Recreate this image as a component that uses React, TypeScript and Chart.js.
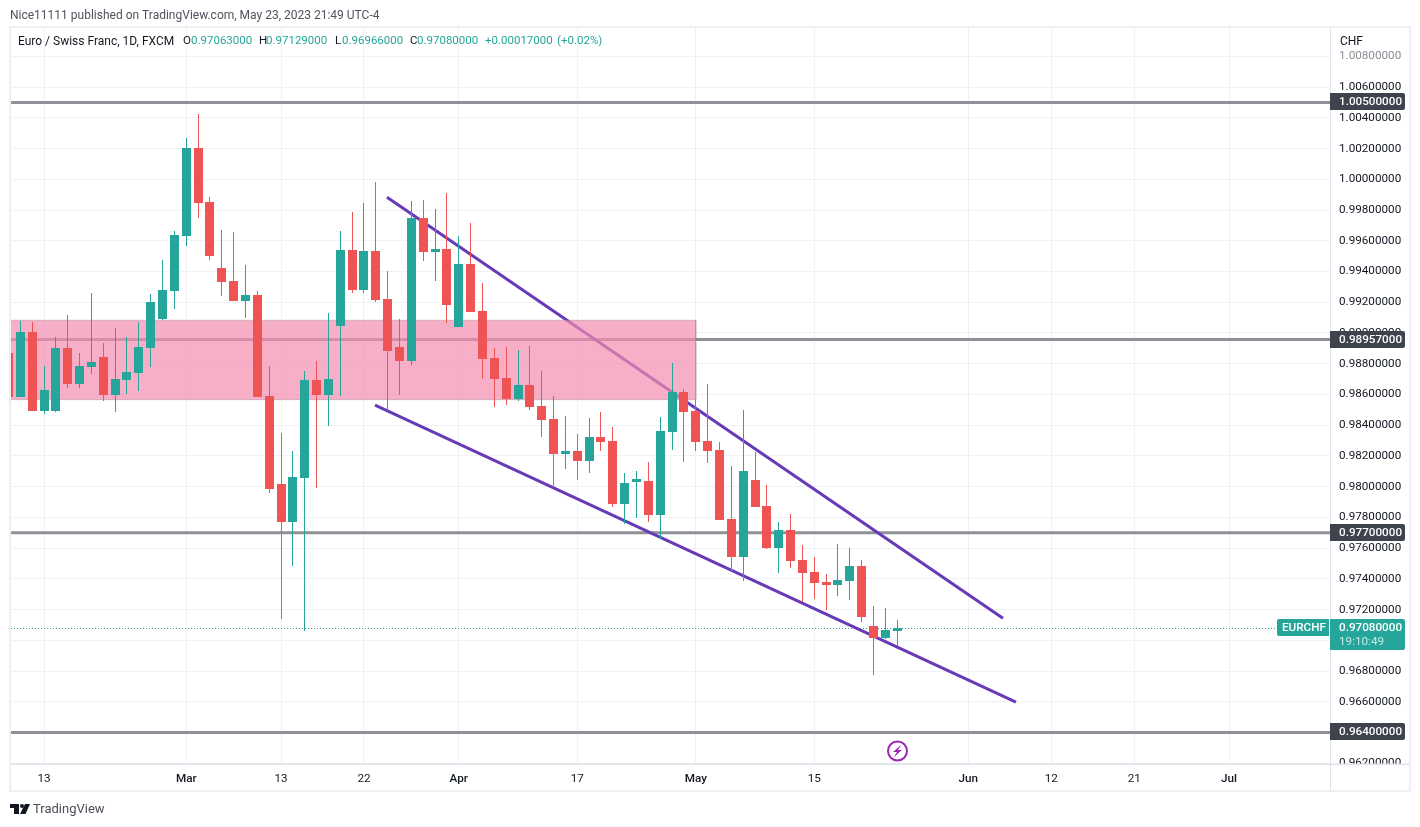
import React, { useEffect, useRef } from "react";
import { Chart, registerables } from "chart.js";

Chart.register(...registerables);

const opens = [0.98868,0.98582,0.99005,0.98491,0.98491,0.98901,0.98667,0.98777,0.98842,0.98595,0.98693,0.98738,0.98901,0.9909,0.99272,0.9963,1.00203,0.99851,0.99422,0.99337,0.99207,0.99246,0.98589,0.98016,0.97769,0.98055,0.98693,0.98595,0.99044,0.99539,0.99278,0.99532,0.9922,0.98907,0.98816,0.99747,0.99526,0.99545,0.99038,0.99448,0.99142,0.98836,0.98706,0.98569,0.9866,0.98524,0.98439,0.98211,0.98231,0.98166,0.98322,0.98296,0.97886,0.98029,0.98035,0.97814,0.98354,0.98615,0.98491,0.98296,0.98237,0.97788,0.97541,0.98042,0.97873,0.97599,0.97717,0.97521,0.97443,0.97378,0.97359,0.97385,0.97482,0.97092,0.97014,0.97063];
const highs = [0.98868,0.99077,0.9907,0.98784,0.98973,0.99116,0.98868,0.99259,0.98934,0.99031,0.98973,0.9907,0.99252,0.99474,0.99663,1.00268,1.00424,0.99884,0.99669,0.99656,0.99441,0.99272,0.98784,0.98348,0.98231,0.98751,0.98816,0.99129,0.99663,0.99786,0.99845,0.99981,0.99402,0.9909,0.99858,0.99864,0.99806,0.9991,0.9963,0.99714,0.99324,0.98901,0.98907,0.98888,0.98914,0.98751,0.98589,0.98458,0.98341,0.98445,0.98485,0.98387,0.98088,0.98101,0.98159,0.98452,0.98803,0.98634,0.98563,0.98667,0.98289,0.98133,0.98498,0.98224,0.98009,0.97769,0.97821,0.97619,0.97541,0.9743,0.97625,0.97599,0.97521,0.97222,0.97209,0.97129];
const lows = [0.98582,0.98582,0.98491,0.98472,0.98485,0.98641,0.98641,0.98732,0.98556,0.98485,0.98602,0.98621,0.98777,0.99083,0.99155,0.99565,0.99747,0.99474,0.99239,0.99207,0.99096,0.98582,0.97957,0.97137,0.97482,0.97059,0.9799,0.98393,0.98589,0.99259,0.99259,0.992,0.98504,0.98595,0.9879,0.99467,0.99337,0.99064,0.99038,0.99135,0.98699,0.98517,0.9853,0.98556,0.98498,0.98322,0.97996,0.98114,0.98042,0.98088,0.98231,0.97866,0.97756,0.97795,0.97769,0.97658,0.98237,0.98159,0.98231,0.98153,0.97782,0.9745,0.97385,0.97866,0.97593,0.97437,0.97469,0.97248,0.97268,0.97196,0.97287,0.97261,0.97118,0.96773,0.97007,0.96966];
const closes = [0.98582,0.99005,0.98491,0.98628,0.98901,0.98667,0.98784,0.9881,0.98595,0.98699,0.98745,0.98907,0.992,0.99278,0.99636,1.00203,0.99845,0.995,0.99331,0.99207,0.99246,0.98582,0.97983,0.97769,0.98062,0.98693,0.98595,0.98699,0.99539,0.99278,0.99532,0.99213,0.98881,0.98816,0.99747,0.99526,0.99545,0.99181,0.99448,0.99135,0.98829,0.98699,0.98569,0.9866,0.98517,0.98432,0.98211,0.98231,0.98166,0.98322,0.98289,0.97886,0.98022,0.98049,0.97814,0.98361,0.98615,0.98485,0.98289,0.98231,0.97782,0.97541,0.98101,0.97866,0.97599,0.97717,0.97515,0.97437,0.97372,0.97359,0.97391,0.97482,0.9715,0.97014,0.97066,0.9708];

const priceTicks = [1.008,1.006,1.004,1.002,1.0,0.998,0.996,0.994,0.992,0.99,0.988,0.986,0.984,0.982,0.98,0.978,0.976,0.974,0.972,0.97,0.968,0.966,0.964,0.962];
const timeTickIndex = [3,15,23,30,38,48,58,68,81,88,95,103];
const timeTickLabels = ["13","Mar","13","22","Apr","17","May","15","Jun","12","21","Jul"];
const monthTicks = ["Mar","Apr","May","Jun","Jul"];

const levels = [1.005,0.98957,0.977,0.964];
const zoneHigh = 0.99083;
const zoneLow = 0.98566;
const zoneEndIndex = 58;
const upperTrendIndex = [31.94,83.92];
const upperTrendPrice = [0.99884,0.97144];
const lowerTrendIndex = [30.93,85.02];
const lowerTrendPrice = [0.9853,0.96597];
const lastPrice = 0.9708;
const lastIndex = 75;

const X_MIN = 0.211;
const X_MAX = 111.52;
const Y_MIN = 0.96195;
const Y_MAX = 1.009848;

const TEAL = "#26a69a";
const RED = "#f05353";
const GRAY = "#909196";
const PURPLE = "#673ab7";
const FONT = "Roboto, 'Noto Sans', sans-serif";

const indices = opens.map((_, i) => i);
const isUp = (i: number) => closes[i] >= opens[i];

const snapPlugin = {
  id: "snap",
  afterDatasetsUpdate(chart: any) {
    chart.data.datasets.forEach((ds: any, di: number) => {
      const meta = chart.getDatasetMeta(di);
      if (ds.snap === "bar") {
        meta.data.forEach((el: any) => {
          el.x = Math.floor(el.x) + 0.5;
          el.y = Math.round(el.y);
          el.base = Math.round(el.base);
          if (Math.abs(el.y - el.base) < 1) el.base = el.y + 1;
        });
      } else if (ds.snap === "line") {
        meta.data.forEach((el: any) => {
          el.y = Math.floor(el.y) + 0.5;
        });
      }
    });
  },
};

function tag(ctx: CanvasRenderingContext2D, x: number, y: number, w: number, h: number, r: any, bg: string) {
  ctx.fillStyle = bg;
  ctx.beginPath();
  ctx.roundRect(x, y, w, h, r);
  ctx.fill();
}

function txt(ctx: CanvasRenderingContext2D, s: string, x: number, y: number, color: string, font: string) {
  ctx.font = font;
  ctx.fillStyle = color;
  ctx.textAlign = "left";
  ctx.textBaseline = "middle";
  ctx.fillText(s, x, y);
}

const overlayPlugin = {
  id: "overlay",
  afterDraw(chart: any) {
    const ctx: CanvasRenderingContext2D = chart.ctx;
    const xs = chart.scales.x;
    const ys = chart.scales.y;
    ctx.save();
    // lower-right corner hides the clipped tick
    ctx.fillStyle = "#ffffff";
    ctx.fillRect(1331, 765, 78, 26);
    // panel frame
    ctx.fillStyle = "#eeeef3";
    ctx.fillRect(9, 26, 1402, 2);
    ctx.fillRect(9, 790, 1402, 2);
    ctx.fillRect(9, 26, 2, 766);
    ctx.fillRect(1409, 26, 2, 766);
    // axis separators
    ctx.fillStyle = "#e0e3eb";
    ctx.fillRect(11, 763.5, 1398, 1.5);
    ctx.fillRect(1330, 28, 1, 762);

    // tags on the price axis
    const bold = `500 11.7px ${FONT}`;
    levels.forEach((v) => {
      const y = Math.round(ys.getPixelForValue(v));
      tag(ctx, 1330, y - 9, 75, 17, [0, 2, 2, 0], "#3f434e");
      txt(ctx, v.toFixed(8), 1339, y + 0.5, "#ffffff", bold);
    });
    const ly = Math.round(ys.getPixelForValue(lastPrice));
    tag(ctx, 1330, ly - 9, 75, 31, [0, 2, 2, 0], TEAL);
    txt(ctx, lastPrice.toFixed(8), 1339, ly + 0.5, "#ffffff", bold);
    txt(ctx, "19:10:49", 1339, ly + 14.5, "#c4ebe6", `11.7px ${FONT}`);
    tag(ctx, 1277, ly - 9, 52, 17, [2, 0, 0, 2], TEAL);
    txt(ctx, "EURCHF", 1282, ly + 0.5, "#ffffff", `500 11.7px ${FONT}`);
    txt(ctx, "CHF", 1340, 41.5, "#131722", `12px ${FONT}`);

    // header
    txt(ctx, "Nice11111 published on TradingView.com, May 23, 2023 21:49 UTC-4", 10, 15.5, "#50535e", `12px ${FONT}`);
    const hf = `11.5px ${FONT}`;
    txt(ctx, "Euro / Swiss Franc, 1D, FXCM", 18, 41.5, "#131722", `12px ${FONT}`);
    txt(ctx, "O", 183, 41.5, "#131722", hf);
    txt(ctx, opens[lastIndex].toFixed(8), 191, 41.5, TEAL, hf);
    txt(ctx, "H", 259, 41.5, "#131722", hf);
    txt(ctx, highs[lastIndex].toFixed(8), 266, 41.5, TEAL, hf);
    txt(ctx, "L", 335, 41.5, "#131722", hf);
    txt(ctx, lows[lastIndex].toFixed(8), 342, 41.5, TEAL, hf);
    txt(ctx, "C", 410, 41.5, "#131722", hf);
    txt(ctx, closes[lastIndex].toFixed(8), 417, 41.5, TEAL, hf);
    txt(ctx, "+0.00017000", 485, 41.5, TEAL, hf);
    txt(ctx, "(+0.02%)", 557, 41.5, TEAL, hf);

    // event marker
    const ex = Math.floor(xs.getPixelForValue(lastIndex)) + 0.5;
    ctx.strokeStyle = "#9c27b0";
    ctx.lineWidth = 2;
    ctx.beginPath();
    ctx.arc(ex, 751, 9.5, 0, Math.PI * 2);
    ctx.stroke();
    ctx.fillStyle = "#9c27b0";
    ctx.beginPath();
    ctx.moveTo(ex + 4, 744.5);
    ctx.lineTo(ex - 4.5, 752);
    ctx.lineTo(ex - 0.5, 752);
    ctx.lineTo(ex - 4, 757.5);
    ctx.lineTo(ex + 4.5, 750);
    ctx.lineTo(ex + 0.5, 750);
    ctx.closePath();
    ctx.fill();

    // footer logo
    ctx.fillStyle = "#131722";
    ctx.fillRect(10, 804, 9, 4);
    ctx.fillRect(14, 804, 5, 10);
    ctx.beginPath();
    ctx.arc(22, 806, 2, 0, Math.PI * 2);
    ctx.fill();
    ctx.beginPath();
    ctx.moveTo(25, 804);
    ctx.lineTo(30, 804);
    ctx.lineTo(25.5, 814);
    ctx.lineTo(20, 814);
    ctx.closePath();
    ctx.fill();
    txt(ctx, "TradingView", 33, 809.5, "#4a4e59", `13px ${FONT}`);
    ctx.restore();
  },
};

export default function App() {
  const ref = useRef<HTMLCanvasElement | null>(null);
  useEffect(() => {
    const canvas = ref.current;
    if (!canvas) return;
    const lineBase = { type: "line", pointRadius: 0, pointHoverRadius: 0, tension: 0, fill: false };
    const chart = new Chart(canvas, {
      type: "bar",
      data: {
        datasets: [
          ...levels.map((v) => ({
            ...lineBase,
            label: "level " + v,
            data: [{ x: X_MIN, y: v }, { x: X_MAX, y: v }],
            borderColor: GRAY,
            borderWidth: 3,
            order: 6,
          })),
          {
            ...lineBase,
            label: "last price",
            data: [{ x: X_MIN, y: lastPrice }, { x: X_MAX, y: lastPrice }],
            borderColor: TEAL,
            borderWidth: 1,
            borderDash: [1, 2],
            snap: "line",
            order: 5,
          },
          {
            ...lineBase,
            label: "upper trend",
            data: upperTrendIndex.map((x, i) => ({ x, y: upperTrendPrice[i] })),
            borderColor: PURPLE,
            borderWidth: 3,
            order: 4,
          },
          {
            ...lineBase,
            label: "lower trend",
            data: lowerTrendIndex.map((x, i) => ({ x, y: lowerTrendPrice[i] })),
            borderColor: PURPLE,
            borderWidth: 3,
            order: 4,
          },
          {
            ...lineBase,
            label: "zone",
            data: [
              { x: X_MIN, y: zoneHigh },
              { x: zoneEndIndex, y: zoneHigh },
              { x: zoneEndIndex, y: zoneLow },
              { x: X_MIN, y: zoneLow },
            ],
            fill: "shape",
            backgroundColor: "rgba(243,139,175,0.7)",
            borderColor: "rgba(150,130,140,0.4)",
            borderWidth: 1,
            order: 3,
          },
          {
            label: "wicks",
            data: indices.map((i) => ({ x: i, y: [lows[i], highs[i]] })),
            backgroundColor: indices.map((i) => (isUp(i) ? TEAL : RED)),
            barThickness: 1,
            grouped: false,
            borderWidth: 0,
            inflateAmount: 0,
            snap: "bar",
            order: 2,
          },
          {
            label: "bodies",
            data: indices.map((i) => ({ x: i, y: [opens[i], closes[i]] })),
            backgroundColor: indices.map((i) => (isUp(i) ? TEAL : RED)),
            barThickness: 9,
            grouped: false,
            borderWidth: 0,
            inflateAmount: 0,
            snap: "bar",
            order: 1,
          },
        ] as any,
      },
      options: {
        responsive: false,
        animation: false,
        events: [],
        layout: { padding: { left: 11, top: 28, right: 12, bottom: 36 } },
        plugins: { legend: { display: false }, tooltip: { enabled: false }, title: { display: false } },
        scales: {
          x: {
            type: "linear",
            min: X_MIN,
            max: X_MAX,
            offset: false,
            afterBuildTicks(scale: any) {
              scale.ticks = timeTickIndex.map((value) => ({ value }));
            },
            afterFit(scale: any) {
              scale.height = 27;
            },
            grid: { offset: false, color: "#f0f1f5", lineWidth: 1, drawTicks: false },
            border: { display: false },
            ticks: {
              autoSkip: false,
              maxRotation: 0,
              padding: 8,
              color: "#131722",
              font: (c: any) => ({
                family: FONT,
                size: 11.7,
                weight: monthTicks.includes(timeTickLabels[c.index]) ? "500" : "400",
              }),
              callback: (_v: any, i: number) => timeTickLabels[i],
            },
          },
          y: {
            type: "linear",
            position: "right",
            min: Y_MIN,
            max: Y_MAX,
            afterBuildTicks(scale: any) {
              scale.ticks = priceTicks.map((value) => ({ value }));
            },
            afterFit(scale: any) {
              scale.width = 78;
            },
            grid: { color: "#f0f1f5", lineWidth: 1, drawTicks: false },
            border: { display: false },
            ticks: {
              autoSkip: false,
              padding: 9,
              color: (c: any) => (c.tick && c.tick.value > 1.007 ? "#8a8d96" : "#131722"),
              font: { family: FONT, size: 11.7 },
              callback: (v: any) => Number(v).toFixed(8),
            },
          },
        },
      } as any,
      plugins: [snapPlugin, overlayPlugin],
    });
    return () => chart.destroy();
  }, []);
  return (
    <div style={{ position: "absolute", left: 0, top: 0, width: 1420, height: 827, background: "#ffffff" }}>
      <canvas ref={ref} width={1420} height={827} style={{ display: "block" }} />
    </div>
  );
}
